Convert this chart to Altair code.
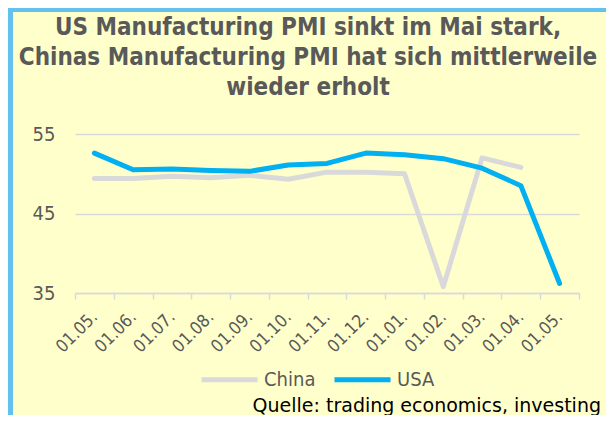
import altair as alt
import pandas as pd

# ---- data ----
tick_labels = ["01.05.", "01.06.", "01.07.", "01.08.", "01.09.", "01.10.", "01.11.",
               "01.12.", "01.01.", "01.02.", "01.03.", "01.04.", "01.05."]
usa = [52.6, 50.5, 50.6, 50.4, 50.3, 51.1, 51.3, 52.6, 52.4, 51.9, 50.7, 48.5, 36.2]
china = [49.4, 49.4, 49.7, 49.5, 49.8, 49.3, 50.2, 50.2, 50.0, 35.8, 52.0, 50.8, None]
series_names = ["China", "USA"]
series_colors = ["#D9D9D9", "#00B0F0"]
title_lines = ["US Manufacturing PMI sinkt im Mai stark,",
               "Chinas Manufacturing PMI hat sich mittlerweile",
               "wieder erholt"]
source_text = "Quelle: trading economics, investing"
y_ticks = [35, 45, 55]

rows = []
for i, (c, u) in enumerate(zip(china, usa)):
    if c is not None:
        rows.append({"idx": i, "Land": "China", "PMI": c})
    rows.append({"idx": i, "Land": "USA", "PMI": u})
df = pd.DataFrame(rows)

FONT = "DejaVu Sans Condensed"
FONT2 = "DejaVu Sans"
GREY = "#595959"
label_expr = "[" + ",".join(f"'{t}'" for t in tick_labels) + "][datum.value]"

lines = alt.Chart(df).mark_line(strokeWidth=5, strokeCap="round", strokeJoin="round").encode(
    x=alt.X("idx:O", scale=alt.Scale(type="band", paddingInner=0, paddingOuter=0,
                                      domain=list(range(len(tick_labels)))),
            axis=alt.Axis(title=None, labelExpr=label_expr, labelAngle=-45, labelAlign="right",
                          labelBaseline="middle", labelPadding=15, labelFontSize=17.5,
                          labelColor=GREY, labelFont=FONT, domain=True, domainColor="#D9D9D9",
                          domainWidth=1.5, ticks=True, tickColor="#D9D9D9", tickWidth=1.5,
                          tickSize=6, tickBand="extent", grid=False)),
    y=alt.Y("PMI:Q", scale=alt.Scale(domain=[35, 55], nice=False, zero=False),
            axis=alt.Axis(title=None, values=y_ticks, labelFontSize=20, labelColor=GREY,
                          labelFont=FONT, labelPadding=20, domain=False, ticks=False,
                          grid=True, gridColor="#D9D9D9", gridWidth=1.5)),
    color=alt.Color("Land:N", scale=alt.Scale(domain=series_names, range=series_colors),
                    legend=alt.Legend(title=None, orient="none", direction="horizontal",
                                      legendX=124, legendY=215, symbolType="stroke",
                                      symbolSize=3136, symbolStrokeWidth=5,
                                      labelFontSize=20, labelFont=FONT, labelColor=GREY,
                                      labelOffset=4, columnPadding=8)),
)

title = alt.Chart(pd.DataFrame({"t": [0]})).mark_text(
    align="center", baseline="alphabetic", fontSize=24, fontWeight="bold", font=FONT,
    color=GREY, lineHeight=30
).encode(x=alt.value(233), y=alt.value(-99), text=alt.value(title_lines))

source = alt.Chart(pd.DataFrame({"t": [source_text]})).mark_text(
    align="right", baseline="alphabetic", fontSize=19, font=FONT2, color="#000000"
).encode(x=alt.value(526), y=alt.value(278), text="t:N")

frame_left = alt.Chart(pd.DataFrame({"t": [0]})).mark_rule(
    color="#63C1ED", strokeWidth=5).encode(
    x=alt.value(-64.5), y=alt.value(-126), y2=alt.value(281))
frame_top = alt.Chart(pd.DataFrame({"t": [0]})).mark_rule(
    color="#63C1ED", strokeWidth=4).encode(
    y=alt.value(-124), x=alt.value(-67), x2=alt.value(531))

chart = alt.layer(frame_left, frame_top, lines, title, source).properties(
    width=504, height=159,
    autosize=alt.AutoSizeParams(type="none"),
    padding={"left": 67, "top": 126, "right": 27, "bottom": 122},
    background="#FFFFCC",
).configure_view(stroke=None)

chart.save("out.html", embed_options={"renderer": "svg", "actions": False})
